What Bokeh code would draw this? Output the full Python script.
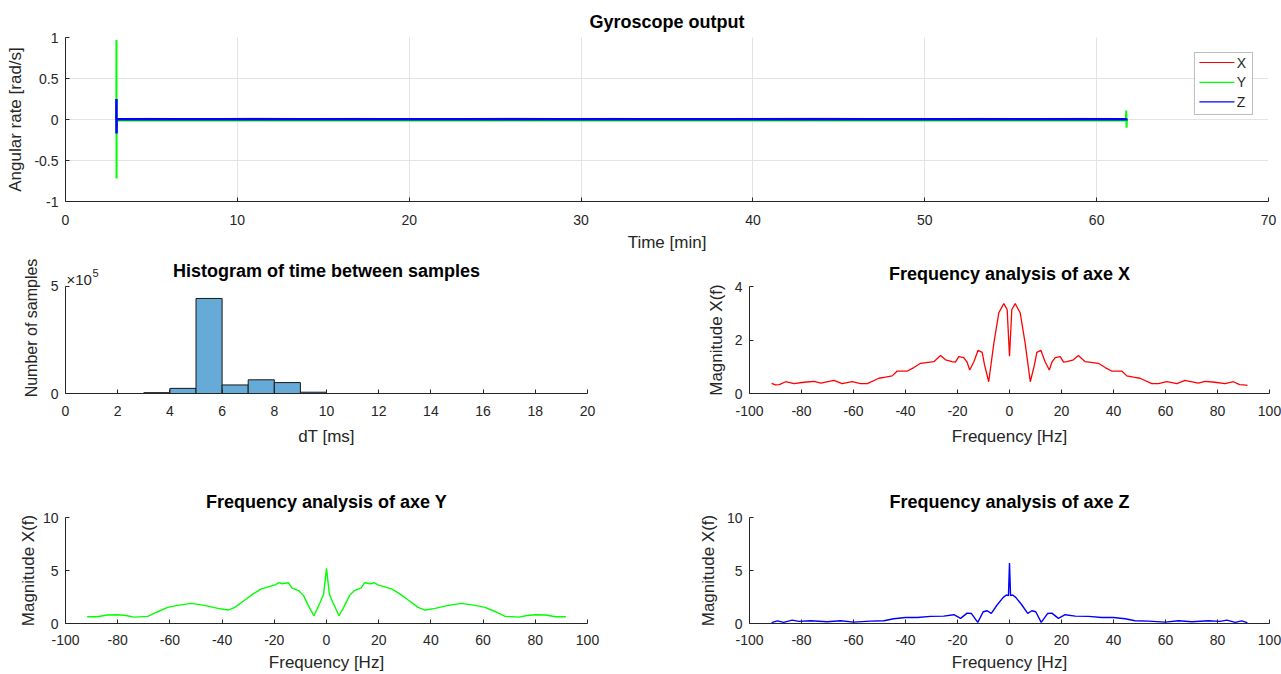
from bokeh.plotting import figure
from bokeh.layouts import column, row
from bokeh.models import Range1d, FixedTicker, Label, BoxAnnotation, ColumnDataSource
from bokeh.embed import file_html
from bokeh.resources import INLINE

FONT = "Liberation Sans"
DARK = "#262626"

# ---------------- data ----------------
# Gyroscope output (time in minutes, angular rate in rad/s)
gyro_t = [2.96, 2.965, 2.97, 2.975, 2.98, 5.0, 8.0, 11.0, 14.0, 17.0, 20.0, 23.0, 26.0,
          29.0, 32.0, 35.0, 38.0, 41.0, 44.0, 47.0, 50.0, 53.0, 56.0, 59.0, 61.7, 61.72,
          61.74, 61.76]
gyro_x = [0.0, 0.05, -0.04, 0.01, 0.012, 0.013, 0.011, 0.014, 0.012, 0.013, 0.011, 0.012,
          0.014, 0.012, 0.013, 0.011, 0.012, 0.013, 0.014, 0.012, 0.011, 0.013, 0.012,
          0.013, 0.012, 0.02, -0.01, 0.005]
gyro_y = [0.0, 0.97, -0.72, -0.01, -0.012, -0.012, -0.011, -0.013, -0.012, -0.012, -0.011,
          -0.012, -0.013, -0.012, -0.012, -0.011, -0.012, -0.013, -0.012, -0.012, -0.011,
          -0.012, -0.013, -0.012, -0.012, 0.11, -0.10, -0.01]
gyro_z = [0.0, 0.25, -0.17, 0.003, 0.003, 0.002, 0.003, 0.002, 0.003, 0.002, 0.003, 0.002,
          0.003, 0.002, 0.003, 0.002, 0.003, 0.002, 0.003, 0.002, 0.003, 0.002, 0.003,
          0.002, 0.003, 0.01, -0.005, 0.002]
series_names = ["X", "Y", "Z"]
series_colors = ["#ff0000", "#00ff00", "#0000ff"]

# Histogram of time between samples
hist_left = [3, 4, 5, 6, 7, 8, 9]
hist_right = [4, 5, 6, 7, 8, 9, 10]
hist_counts = [4000, 24000, 444000, 40000, 64000, 51000, 6000]

# Frequency analysis X
fx = [-91.5, -90.0, -88.5, -86.1, -82.9, -79.0, -75.2, -72.6, -67.5, -64.4, -60.5, -57.3,
      -54.7, -50.2, -47.7, -45.1, -43.2, -39.3, -36.8, -34.2, -29.1, -26.5, -24.6, -22.1,
      -20.8, -19.5, -17.6, -16.3, -15.3, -13.7, -12.1, -10.5, -9.6, -8.0, -6.0, -4.1, -2.2,
      -0.9, 0.0, 0.9, 2.2, 4.1, 6.0, 8.0, 9.6, 10.5, 12.1, 13.7, 15.3, 16.3, 17.6, 19.5,
      20.8, 22.1, 24.6, 26.5, 29.1, 34.2, 36.8, 39.3, 43.2, 45.1, 47.7, 50.2, 54.7, 57.3,
      60.5, 64.4, 67.5, 72.6, 75.2, 79.0, 82.9, 86.1, 88.5, 90.0, 91.5]
mx = [0.38, 0.32, 0.33, 0.44, 0.37, 0.42, 0.45, 0.39, 0.49, 0.37, 0.44, 0.37,
      0.37, 0.57, 0.61, 0.66, 0.84, 0.84, 0.97, 1.13, 1.19, 1.42, 1.26, 1.19,
      1.17, 1.38, 1.34, 1.17, 0.88, 1.19, 1.61, 1.54, 1.07, 0.44, 1.89, 3.02, 3.36,
      3.14, 1.39, 3.14, 3.36, 3.02, 1.89, 0.44, 1.07, 1.54, 1.61, 1.19, 0.88, 1.17, 1.34, 1.38,
      1.17, 1.19, 1.26, 1.42, 1.19, 1.13, 0.97, 0.84, 0.84, 0.66, 0.61, 0.57, 0.37, 0.37,
      0.44, 0.37, 0.49, 0.39, 0.45, 0.42, 0.37, 0.44, 0.33, 0.32, 0.30]

# Frequency analysis Y
fy = [-91.7, -87.8, -84.0, -80.1, -76.9, -73.7, -68.5, -64.7, -60.8, -57.0, -51.8, -46.7,
      -41.6, -37.7, -35.1, -31.3, -28.1, -24.9, -19.7, -18.2, -17.1, -14.6, -13.3, -10.7,
      -8.8, -6.6, -4.8, -2.4, -1.1, 0.0, 1.1, 2.4, 4.8, 6.6, 8.8, 10.7, 13.3, 14.6, 17.1,
      18.2, 19.7, 24.9, 28.1, 31.3, 35.1, 37.7, 41.6, 46.7, 51.8, 57.0, 60.8, 64.7, 68.5,
      73.7, 76.9, 80.1, 84.0, 87.8, 91.7]
my = [0.64, 0.64, 0.80, 0.82, 0.76, 0.60, 0.67, 1.11, 1.52, 1.71, 1.90, 1.71,
      1.43, 1.27, 1.52, 2.22, 2.79, 3.27, 3.65, 3.85, 3.75, 3.85, 3.36, 3.11,
      2.63, 1.52, 0.73, 2.00, 2.79, 5.20, 2.79, 2.00, 0.73, 1.52, 2.63, 3.11, 3.36, 3.85, 3.75,
      3.85, 3.65, 3.27, 2.79, 2.22, 1.52, 1.27, 1.43, 1.71, 1.90, 1.71, 1.52, 1.11, 0.67,
      0.60, 0.76, 0.82, 0.80, 0.64, 0.64]

# Frequency analysis Z
fz = [-91.5, -89.3, -86.8, -83.6, -81.0, -76.5, -70.1, -65.0, -59.9, -53.5, -48.3, -44.5,
      -40.0, -35.5, -30.4, -25.3, -21.4, -18.8, -16.3, -14.7, -12.2, -10.1, -8.6, -7.0,
      -4.7, -2.4, -1.2, -0.4, 0.0, 0.4, 1.2, 2.4, 4.7, 7.0, 8.6, 10.1, 12.2, 14.7, 16.3,
      18.8, 21.4, 25.3, 30.4, 35.5, 40.0, 44.5, 48.3, 53.5, 59.9, 65.0, 70.1, 76.5, 81.0,
      83.6, 86.8, 89.3, 91.5]
mz = [0.08, 0.25, 0.10, 0.32, 0.20, 0.26, 0.16, 0.26, 0.13, 0.22, 0.26, 0.45,
      0.57, 0.57, 0.67, 0.70, 0.83, 0.48, 0.98, 0.95, 0.10, 1.11, 1.20, 0.95,
      1.77, 2.47, 2.69, 2.63, 5.70, 2.63, 2.69, 2.47, 1.77, 0.95, 1.20, 1.11, 0.10, 0.95, 0.98,
      0.48, 0.83, 0.70, 0.67, 0.57, 0.57, 0.45, 0.26, 0.22, 0.13, 0.26, 0.16, 0.26, 0.20,
      0.32, 0.10, 0.25, 0.08]

time_ticks = [0, 10, 20, 30, 40, 50, 60, 70]
rate_ticks = [-1, -0.5, 0, 0.5, 1]
dt_ticks = [0, 2, 4, 6, 8, 10, 12, 14, 16, 18, 20]
count_ticks = [0, 500000]
freq_ticks = [-100, -80, -60, -40, -20, 0, 20, 40, 60, 80, 100]
magx_ticks = [0, 2, 4]
magyz_ticks = [0, 5, 10]


def make_fig(width, height, xr, yr, left, right, top, bottom, title):
    p = figure(width=width, height=height, x_range=Range1d(*xr), y_range=Range1d(*yr),
               output_backend="svg", toolbar_location=None,
               min_border_left=left, min_border_right=right,
               min_border_top=top, min_border_bottom=bottom)
    if "frame_align" in p.properties():
        p.frame_align = False
    p.outline_line_color = None
    p.background_fill_color = "white"
    p.border_fill_color = "white"
    if title is None:
        p.title = None
    else:
        p.title.text = title
        p.title.align = "center"
        p.title.text_font = FONT
        p.title.text_font_size = "18px"
        p.title.text_font_style = "bold"
        p.title.text_color = "black"
        p.title.standoff = 8
    for ax in (p.xaxis[0], p.yaxis[0]):
        ax.axis_line_color = DARK
        ax.major_tick_line_color = DARK
        ax.major_tick_in = 4
        ax.major_tick_out = 0
        ax.minor_tick_line_color = None
        ax.major_label_text_font = FONT
        ax.major_label_text_font_size = "14px"
        ax.major_label_text_color = DARK
        ax.axis_label_text_font = FONT
        ax.axis_label_text_font_size = "17px"
        ax.axis_label_text_font_style = "normal"
        ax.axis_label_text_color = DARK
    p.xaxis.major_label_standoff = 12
    p.yaxis.major_label_standoff = 7
    p.xgrid.grid_line_color = None
    p.ygrid.grid_line_color = None
    return p


def labels_for(ticks):
    return {t: ("%g" % t) for t in ticks}


# ---------------- top: gyroscope ----------------
top = make_fig(1281, 258, (0, 70), (-1, 1), 65, 13, 37, 57, "Gyroscope output")
top.title.standoff = 12
top.xaxis.ticker = FixedTicker(ticks=time_ticks)
top.yaxis.ticker = FixedTicker(ticks=rate_ticks)
top.yaxis.major_label_overrides = labels_for(rate_ticks)
top.xaxis.axis_label = "Time [min]"
top.yaxis.axis_label = "Angular rate [rad/s]"
top.xaxis.major_label_standoff = 13
top.xaxis.axis_label_standoff = 5
top.yaxis.axis_label_standoff = 6
top.xgrid.grid_line_color = "#e3e3e3"
top.ygrid.grid_line_color = "#e3e3e3"
top.xgrid.ticker = FixedTicker(ticks=time_ticks)
top.ygrid.ticker = FixedTicker(ticks=rate_ticks)

top.line(gyro_t, gyro_x, line_color=series_colors[0], line_width=1)
top.line(gyro_t, gyro_y, line_color=series_colors[1], line_width=2)
top.line(gyro_t, gyro_z, line_color=series_colors[2], line_width=2.5)

# legend box (top right, drawn as annotations)
top.add_layout(BoxAnnotation(left=65.69, right=69.07, bottom=0.061, top=0.817,
                             fill_color="white", fill_alpha=1,
                             line_color=DARK, line_width=1, level="annotation"))
key_y = [0.695, 0.452, 0.215]
key_src = ColumnDataSource(dict(x0=[65.98] * 3, x1=[68.02] * 3, y=key_y,
                                color=series_colors))
top.segment(x0="x0", y0="y", x1="x1", y1="y", line_color="color", line_width=1.2,
            source=key_src, level="overlay")
for name, yk in zip(series_names, key_y):
    top.add_layout(Label(x=68.15, y=yk, text=name, text_baseline="middle",
                         text_font=FONT, text_font_size="14px", text_color=DARK,
                         level="overlay"))

# ---------------- histogram ----------------
# frame extends above the 5e5 tick so the title and exponent can sit inside it
hist = make_fig(650, 222, (0, 20), (0, 612000), 65, 63, 4, 87, None)
hist.xaxis.ticker = FixedTicker(ticks=dt_ticks)
hist.yaxis.ticker = FixedTicker(ticks=count_ticks)
hist.yaxis.bounds = (0, 500000)
hist.yaxis.major_label_overrides = {0: "0", 500000: "5"}
hist.xaxis.axis_label = "dT [ms]"
hist.yaxis.axis_label = "Number of samples"
hist.yaxis.axis_label_text_font_size = "16px"
hist.xaxis.axis_label_standoff = 8
hist.yaxis.axis_label_standoff = 8
hist.quad(left=hist_left, right=hist_right, top=hist_counts, bottom=0,
          fill_color="#66aad7", line_color="#1a1a1a", line_width=1)
hist.add_layout(Label(x=10, y=500000, y_offset=15, text="Histogram of time between samples",
                      text_align="center", text_baseline="middle",
                      text_font=FONT, text_font_size="18px", text_font_style="bold",
                      text_color="black"))
hist.add_layout(Label(x=0, y=500000, x_offset=1, y_offset=7, text="\u00d710",
                      text_baseline="middle",
                      text_font=FONT, text_font_size="15px", text_color=DARK))
hist.add_layout(Label(x=0, y=500000, x_offset=27, y_offset=13, text="5",
                      text_baseline="middle",
                      text_font=FONT, text_font_size="11px", text_color=DARK))

# ---------------- frequency X ----------------
frx = make_fig(631, 222, (-100, 100), (0, 4), 99, 12, 28, 87, "Frequency analysis of axe X")
frx.title.standoff = 6
frx.xaxis.ticker = FixedTicker(ticks=freq_ticks)
frx.yaxis.ticker = FixedTicker(ticks=magx_ticks)
frx.xaxis.major_label_overrides = labels_for(freq_ticks)
frx.xaxis.axis_label = "Frequency [Hz]"
frx.yaxis.axis_label = "Magnitude X(f)"
frx.xaxis.axis_label_standoff = 8
frx.yaxis.axis_label_standoff = 6
frx.line(fx, mx, line_color="#ff0000", line_width=1.3)

# ---------------- frequency Y ----------------
fry = make_fig(650, 194, (-100, 100), (0, 10), 65, 63, 37, 51, "Frequency analysis of axe Y")
fry.title.standoff = 11
fry.xaxis.ticker = FixedTicker(ticks=freq_ticks)
fry.yaxis.ticker = FixedTicker(ticks=magyz_ticks)
fry.xaxis.major_label_overrides = labels_for(freq_ticks)
fry.xaxis.axis_label = "Frequency [Hz]"
fry.yaxis.axis_label = "Magnitude X(f)"
fry.xaxis.major_label_standoff = 11
fry.xaxis.axis_label_standoff = 5
fry.yaxis.axis_label_standoff = 2
fry.line(fy, my, line_color="#00ff00", line_width=1.4)

# ---------------- frequency Z ----------------
frz = make_fig(631, 194, (-100, 100), (0, 10), 99, 12, 37, 51, "Frequency analysis of axe Z")
frz.title.standoff = 11
frz.xaxis.ticker = FixedTicker(ticks=freq_ticks)
frz.yaxis.ticker = FixedTicker(ticks=magyz_ticks)
frz.xaxis.major_label_overrides = labels_for(freq_ticks)
frz.xaxis.axis_label = "Frequency [Hz]"
frz.yaxis.axis_label = "Magnitude X(f)"
frz.xaxis.major_label_standoff = 11
frz.xaxis.axis_label_standoff = 5
frz.yaxis.axis_label_standoff = 6
frz.line(fz, mz, line_color="#0000ff", line_width=1.4)

layout = column(top, row(hist, frx), row(fry, frz))
open("out.html", "w").write(file_html(layout, INLINE))
